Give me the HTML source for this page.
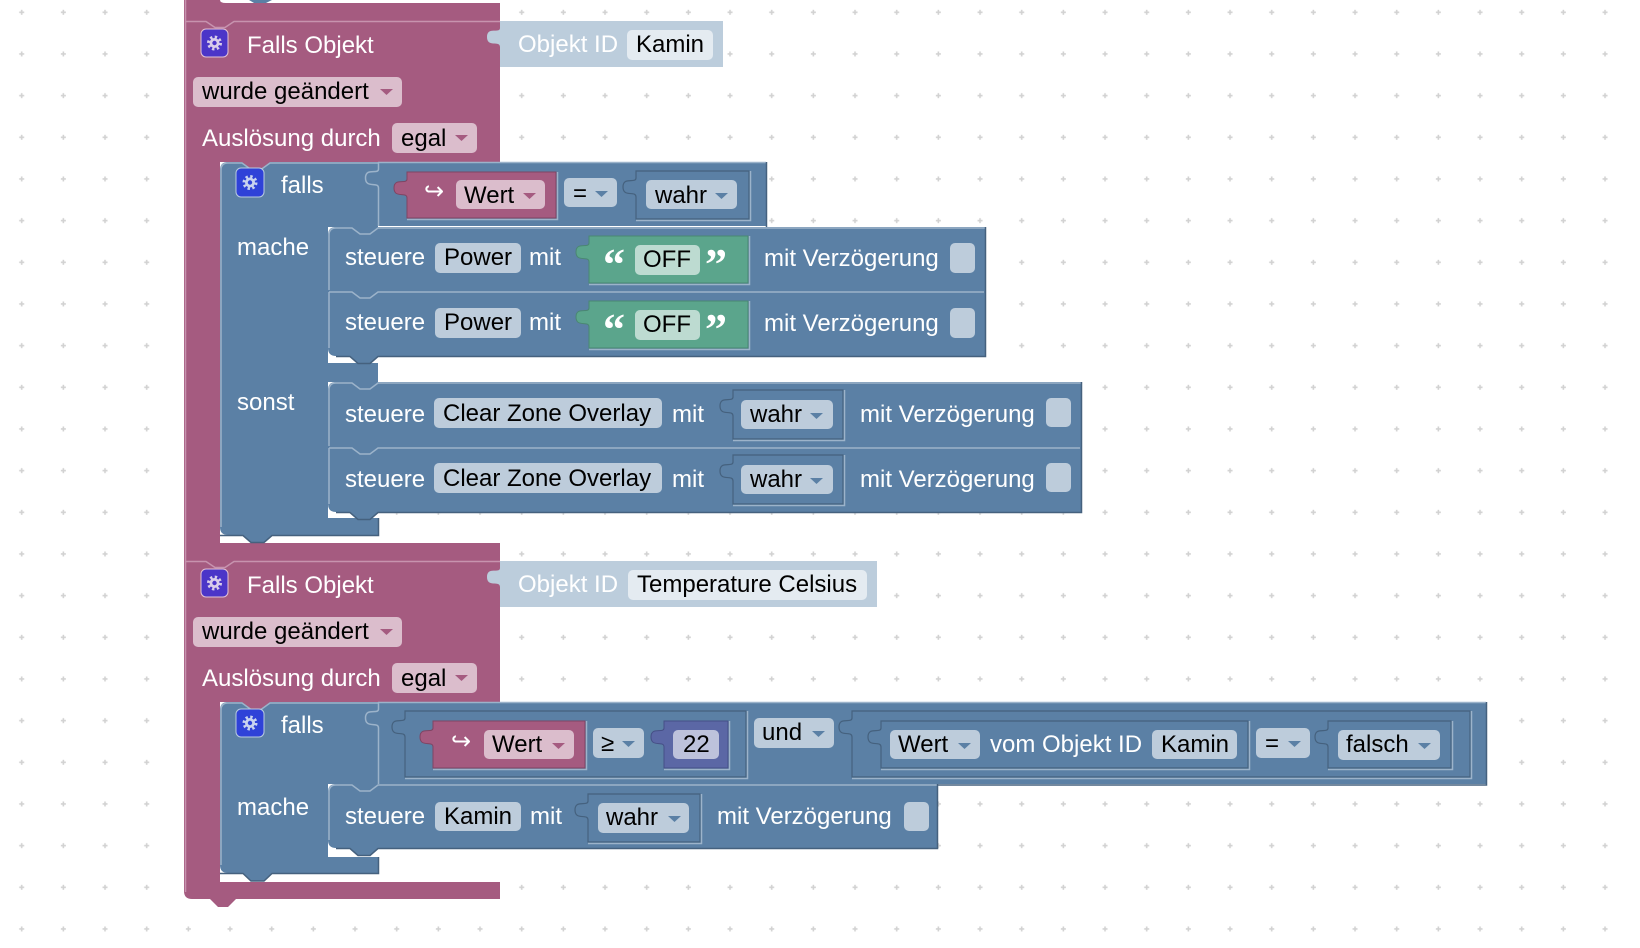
<!DOCTYPE html>
<html><head><meta charset="utf-8">
<style>
html,body{margin:0;padding:0;background:#fff;}
svg{display:block;}
text{font-family:"Liberation Sans","DejaVu Sans",sans-serif;font-size:24px;}
.w{fill:#fff;}
.k{fill:#000;}
.ar{font-family:"DejaVu Sans",sans-serif;fill:#fff;font-size:24px;}
.q{font-family:"Liberation Serif",serif;font-weight:bold;fill:#fff;font-size:44px;}
.lb{fill:none;stroke:#9cb3ca;stroke-width:1.5;}
.db{fill:none;stroke:#45617e;stroke-width:1.5;}
.lp{fill:none;stroke:#c793ae;stroke-width:1.5;}
.fb{fill:#bdccdb;}
.fp{fill:#dbbdcc;}
.tb{fill:#5b80a5;}
.tp{fill:#a55b80;}
</style></head><body>
<svg width="1640" height="948" viewBox="0 0 1640 948" xmlns="http://www.w3.org/2000/svg">
<defs>
<pattern id="grid" width="41.667" height="41.667" patternUnits="userSpaceOnUse">
 <rect x="19.2" y="11.5" width="5" height="1.6" fill="#d2d2d2"/>
 <rect x="20.9" y="9.8" width="1.6" height="5" fill="#d2d2d2"/>
</pattern>
</defs>
<rect width="1640" height="948" fill="#fff"/>
<rect width="1640" height="948" fill="url(#grid)"/>

<!-- ===== Pink trigger blocks ===== -->
<g fill="#a55b80">
<rect x="184" y="0" width="316" height="162"/>
<rect x="184" y="0" width="36" height="892"/>
<rect x="184" y="543" width="316" height="159"/>
<path d="M184,882 H500 V899 H236 L228,907 H218 L210,899 H192 Q184,899 184,891 Z"/>
</g>
<path d="M220,0 H500 V3 H226 Q220,3 220,0 Z" fill="#fff"/>
<path d="M249,0 H272 L266,3 H254 Z" fill="#5b80a5"/>
<path class="lp" d="M185,21.5 H206 L215,27.5 H225 L234,21.5 H500"/>
<path class="lp" d="M185,561.5 H206 L215,567.5 H225 L234,561.5 H500"/>
<path class="lp" d="M185.5,0 V892"/>

<!-- ===== Objekt ID blocks ===== -->
<path d="M723,21 H500 V28 c0,6 -13,-2 -13,9 s13,3 13,10 V67 H723 Z" fill="#bccddc"/>
<text x="518" y="52" class="w">Objekt ID</text>
<rect x="627" y="30" width="86" height="30" rx="5" fill="#e4ebf1"/>
<text x="636" y="52" class="k">Kamin</text>

<path d="M877,561 H500 V568 c0,6 -13,-2 -13,9 s13,3 13,10 V607 H877 Z" fill="#bccddc"/>
<text x="518" y="592" class="w">Objekt ID</text>
<rect x="628" y="570" width="239" height="30" rx="5" fill="#e4ebf1"/>
<text x="637" y="592" class="k">Temperature Celsius</text>

<!-- ===== Pink header contents block 1 ===== -->
<rect x="201" y="29" width="27" height="28" rx="5" fill="#4b35c8" stroke="#e3c3d4" stroke-width="1"/>
<g transform="translate(214.5,43)"><circle r="6" fill="none" stroke="#d9cdea" stroke-width="3" stroke-dasharray="2.36 2.36"/><circle r="5" fill="#d9cdea"/><circle r="2.2" fill="#4b35c8"/></g>
<text x="247" y="53" class="w">Falls Objekt</text>
<rect x="193" y="77" width="209" height="30" rx="5" class="fp"/>
<text x="202" y="99" class="k">wurde geändert</text>
<polygon points="380,89 393,89 386.5,95" class="tp"/>
<text x="202" y="146" class="w">Auslösung durch</text>
<rect x="392" y="123" width="85" height="30" rx="5" class="fp"/>
<text x="401" y="146" class="k">egal</text>
<polygon points="455,135 468,135 461.5,141" class="tp"/>

<!-- ===== Pink header contents block 2 ===== -->
<rect x="201" y="569" width="27" height="28" rx="5" fill="#4b35c8" stroke="#e3c3d4" stroke-width="1"/>
<g transform="translate(214.5,583)"><circle r="6" fill="none" stroke="#d9cdea" stroke-width="3" stroke-dasharray="2.36 2.36"/><circle r="5" fill="#d9cdea"/><circle r="2.2" fill="#4b35c8"/></g>
<text x="247" y="593" class="w">Falls Objekt</text>
<rect x="193" y="617" width="209" height="30" rx="5" class="fp"/>
<text x="202" y="639" class="k">wurde geändert</text>
<polygon points="380,629 393,629 386.5,635" class="tp"/>
<text x="202" y="686" class="w">Auslösung durch</text>
<rect x="392" y="663" width="85" height="30" rx="5" class="fp"/>
<text x="401" y="686" class="k">egal</text>
<polygon points="455,675 468,675 461.5,681" class="tp"/>

<!-- ===== Blue falls block 1 ===== -->
<path d="M228,162 H378 V227 H328 V363 H378 V382 H328 V518 H378 V535 H272 L264,542 H251 L243,535 H228 Q220,535 220,527 V170 Q220,162 228,162 Z" fill="#5b80a5"/>
<polygon points="242,162 251,169 261,169 270,162" fill="#a55b80"/>
<path class="lb" d="M221,527 V170 Q221,163 228,163 H242 L251,169.5 H261 L270,163 H378"/>
<path class="db" d="M220,535.5 H243 L251,542.5 H264 L272,535.5 H378.5 V518"/>
<rect x="236" y="168" width="28" height="29" rx="5" fill="#2f42d8" stroke="#b9cbe0" stroke-width="1"/>
<g transform="translate(250,182.5)"><circle r="6" fill="none" stroke="#c9d3ef" stroke-width="3" stroke-dasharray="2.36 2.36"/><circle r="5" fill="#c9d3ef"/><circle r="2.2" fill="#2f42d8"/></g>
<text x="281" y="193" class="w">falls</text>
<text x="237" y="255" class="w">mache</text>
<text x="237" y="410" class="w">sonst</text>

<!-- ===== Blue falls block 2 ===== -->
<path d="M228,702 H378 V784 H328 V857 H378 V873 H272 L264,881 H251 L243,873 H228 Q220,873 220,865 V710 Q220,702 228,702 Z" fill="#5b80a5"/>
<polygon points="242,702 251,709 261,709 270,702" fill="#a55b80"/>
<path class="lb" d="M221,865 V710 Q221,703 228,703 H242 L251,709.5 H261 L270,703 H378"/>
<path class="db" d="M220,873.5 H243 L251,881 H264 L272,873.5 H378.5 V857"/>
<rect x="236" y="709" width="28" height="28" rx="5" fill="#2f42d8" stroke="#b9cbe0" stroke-width="1"/>
<g transform="translate(250,723)"><circle r="6" fill="none" stroke="#c9d3ef" stroke-width="3" stroke-dasharray="2.36 2.36"/><circle r="5" fill="#c9d3ef"/><circle r="2.2" fill="#2f42d8"/></g>
<text x="281" y="733" class="w">falls</text>
<text x="237" y="815" class="w">mache</text>

<!-- ===== Statement blocks block 1 (mache) ===== -->
<path d="M336,227 H985 V291 H328 V235 Q328,227 336,227 Z" fill="#5b80a5"/>
<path d="M328,291 H985 V356 H378 L370,363 H358 L350,356 H336 Q328,356 328,348 Z" fill="#5b80a5"/>
<path class="lb" d="M329,290 V235 Q329,228 336,228 H352 L360,234 H370 L378,228 H985"/>
<path class="lb" d="M329,292 H352 L360,298 H370 L378,292 H984"/>
<path class="lb" d="M329,292 V348"/>
<path class="db" d="M985.5,227 V356.5 H378 L370,363.5 H358 L350,356.5 H336"/>

<text x="345" y="265" class="w">steuere</text>
<rect x="435" y="243" width="86" height="30" rx="5" class="fb"/>
<text x="444" y="265" class="k">Power</text>
<text x="529" y="265" class="w">mit</text>
<path d="M748,236 H589 V243 c0,6 -13,-2 -13,9 s13,3 13,10 V283 H748 Z" fill="#5ba58c" stroke="#4a8772" stroke-width="1"/>
<path class="lb" d="M749.5,236 V284.5 H589"/>
<text x="603" y="279" class="q">“</text>
<rect x="635" y="245" width="65" height="30" rx="5" fill="#bddbd1"/>
<text x="643" y="267" class="k">OFF</text>
<text x="705" y="279" class="q">”</text>
<text x="764" y="266" class="w">mit Verzögerung</text>
<rect x="950" y="243" width="25" height="30" rx="5" class="fb"/>

<text x="345" y="330" class="w">steuere</text>
<rect x="435" y="308" width="86" height="30" rx="5" class="fb"/>
<text x="444" y="330" class="k">Power</text>
<text x="529" y="330" class="w">mit</text>
<path d="M748,301 H589 V308 c0,6 -13,-2 -13,9 s13,3 13,10 V348 H748 Z" fill="#5ba58c" stroke="#4a8772" stroke-width="1"/>
<path class="lb" d="M749.5,301 V349.5 H589"/>
<text x="603" y="344" class="q">“</text>
<rect x="635" y="310" width="65" height="30" rx="5" fill="#bddbd1"/>
<text x="643" y="332" class="k">OFF</text>
<text x="705" y="344" class="q">”</text>
<text x="764" y="331" class="w">mit Verzögerung</text>
<rect x="950" y="308" width="25" height="30" rx="5" class="fb"/>

<!-- ===== Statement blocks block 1 (sonst) ===== -->
<path d="M336,382 H1081 V447 H328 V390 Q328,382 336,382 Z" fill="#5b80a5"/>
<path d="M328,447 H1081 V512 H378 L370,519 H358 L350,512 H336 Q328,512 328,504 Z" fill="#5b80a5"/>
<path class="lb" d="M329,446 V390 Q329,383 336,383 H352 L360,389 H370 L378,383 H1081"/>
<path class="lb" d="M329,448 H352 L360,454 H370 L378,448 H1080"/>
<path class="lb" d="M329,448 V504"/>
<path class="db" d="M1081.5,382 V512.5 H378 L370,519.5 H358 L350,512.5 H336"/>

<text x="345" y="422" class="w">steuere</text>
<rect x="434" y="398" width="228" height="30" rx="5" class="fb"/>
<text x="443" y="421" class="k">Clear Zone Overlay</text>
<text x="672" y="422" class="w">mit</text>
<path d="M843,390 H733 V397 c0,6 -13,-2 -13,9 s13,3 13,10 V439 H843 Z" fill="#5b80a5" stroke="#45617e" stroke-width="1.2"/>
<path class="lb" d="M844.5,390 V440.5 H733"/>
<rect x="741" y="400" width="92" height="29" rx="5" class="fb"/>
<text x="750" y="422" class="k">wahr</text>
<polygon points="810,413 823,413 816.5,419" class="tb"/>
<text x="860" y="422" class="w">mit Verzögerung</text>
<rect x="1046" y="398" width="25" height="29" rx="5" class="fb"/>

<text x="345" y="487" class="w">steuere</text>
<rect x="434" y="463" width="228" height="30" rx="5" class="fb"/>
<text x="443" y="486" class="k">Clear Zone Overlay</text>
<text x="672" y="487" class="w">mit</text>
<path d="M843,455 H733 V462 c0,6 -13,-2 -13,9 s13,3 13,10 V504 H843 Z" fill="#5b80a5" stroke="#45617e" stroke-width="1.2"/>
<path class="lb" d="M844.5,455 V505.5 H733"/>
<rect x="741" y="465" width="92" height="29" rx="5" class="fb"/>
<text x="750" y="487" class="k">wahr</text>
<polygon points="810,478 823,478 816.5,484" class="tb"/>
<text x="860" y="487" class="w">mit Verzögerung</text>
<rect x="1046" y="463" width="25" height="29" rx="5" class="fb"/>

<!-- ===== Condition block 1: Wert = wahr ===== -->
<path d="M766,162 H378 V169 c0,6 -13,-2 -13,9 s13,3 13,10 V226 H766 Z" fill="#5b80a5"/>
<path class="lb" d="M378,162.5 H766 M378.5,162 V169 c0,6 -13,-2 -13,9 s13,3 13,10 V226"/>
<path class="db" d="M766.5,162 V227"/>
<path d="M556,172 H407 V179 c0,6 -13,-2 -13,9 s13,3 13,10 V218 H556 Z" fill="#a55b80" stroke="#7f4463" stroke-width="1"/>
<path class="lb" d="M557.5,172 V219.5 H407"/>
<text x="424" y="199" class="ar">↪</text>
<rect x="456" y="180" width="89" height="29" rx="5" class="fp"/>
<text x="464" y="203" class="k">Wert</text>
<polygon points="523,193 536,193 529.5,199" class="tp"/>
<rect x="564" y="178" width="53" height="29" rx="5" class="fb"/>
<text x="573" y="201" class="k">=</text>
<polygon points="595,191 608,191 601.5,197" class="tb"/>
<path d="M749,171 H636 V178 c0,6 -13,-2 -13,9 s13,3 13,10 V219 H749 Z" fill="#5b80a5" stroke="#45617e" stroke-width="1.2"/>
<path class="lb" d="M750.5,171 V220.5 H636"/>
<rect x="646" y="180" width="91" height="29" rx="5" class="fb"/>
<text x="655" y="203" class="k">wahr</text>
<polygon points="715,193 728,193 721.5,199" class="tb"/>

<!-- ===== Statement block 2 (mache) ===== -->
<path d="M336,784 H937 V848 H378 L370,855 H358 L350,848 H336 Q328,848 328,840 V792 Q328,784 336,784 Z" fill="#5b80a5"/>
<path class="lb" d="M329,840 V792 Q329,785 336,785 H352 L360,791 H370 L378,785 H937"/>
<path class="db" d="M937.5,784 V848.5 H378 L370,855.5 H358 L350,848.5 H336"/>
<text x="345" y="824" class="w">steuere</text>
<rect x="435" y="802" width="86" height="29" rx="5" class="fb"/>
<text x="444" y="824" class="k">Kamin</text>
<text x="530" y="824" class="w">mit</text>
<path d="M700,794 H588 V801 c0,6 -13,-2 -13,9 s13,3 13,10 V842 H700 Z" fill="#5b80a5" stroke="#45617e" stroke-width="1.2"/>
<path class="lb" d="M701.5,794 V843.5 H588"/>
<rect x="598" y="803" width="91" height="30" rx="5" class="fb"/>
<text x="606" y="825" class="k">wahr</text>
<polygon points="668,816 681,816 674.5,822" class="tb"/>
<text x="717" y="824" class="w">mit Verzögerung</text>
<rect x="904" y="802" width="25" height="29" rx="5" class="fb"/>

<!-- ===== Condition block 2: und ===== -->
<path d="M1486,702 H378 V709 c0,6 -13,-2 -13,9 s13,3 13,10 V784 H1486 Z" fill="#5b80a5"/>
<path class="lb" d="M378,702.5 H1486 M378.5,702 V709 c0,6 -13,-2 -13,9 s13,3 13,10 V784"/>
<path class="db" d="M1486.5,702 V785 H937"/>

<path d="M746,711 H405 V718 c0,6 -13,-2 -13,9 s13,3 13,10 V777 H746 Z" fill="#5b80a5" stroke="#45617e" stroke-width="1.2"/>
<path class="lb" d="M747.5,711 V778.5 H405"/>
<path d="M585,721 H433 V728 c0,6 -13,-2 -13,9 s13,3 13,10 V768 H585 Z" fill="#a55b80" stroke="#7f4463" stroke-width="1"/>
<path class="lb" d="M586.5,721 V769.5 H433"/>
<text x="451" y="749" class="ar">↪</text>
<rect x="484" y="730" width="90" height="29" rx="5" class="fp"/>
<text x="492" y="752" class="k">Wert</text>
<polygon points="552,743 565,743 558.5,749" class="tp"/>
<rect x="593" y="728" width="51" height="30" rx="5" class="fb"/>
<text x="601" y="751" class="k">≥</text>
<polygon points="622,741 635,741 628.5,747" class="tb"/>
<path d="M728,721 H664 V728 c0,6 -13,-2 -13,9 s13,3 13,10 V768 H728 Z" fill="#5b67a5" stroke="#464f86" stroke-width="1"/>
<path class="lb" d="M729.5,721 V769.5 H664"/>
<rect x="673" y="730" width="46" height="29" rx="5" fill="#bdc2db"/>
<text x="683" y="752" class="k">22</text>

<rect x="754" y="718" width="80" height="30" rx="5" class="fb"/>
<text x="762" y="740" class="k">und</text>
<polygon points="812,731 825,731 818.5,737" class="tb"/>

<path d="M1470,711 H852 V718 c0,6 -13,-2 -13,9 s13,3 13,10 V777 H1470 Z" fill="#5b80a5" stroke="#45617e" stroke-width="1.2"/>
<path class="lb" d="M1471.5,711 V778.5 H852"/>
<path d="M1248,721 H881 V728 c0,6 -13,-2 -13,9 s13,3 13,10 V768 H1248 Z" fill="#5b80a5" stroke="#45617e" stroke-width="1.2"/>
<path class="lb" d="M1249.5,721 V769.5 H881"/>
<rect x="890" y="730" width="90" height="29" rx="5" class="fb"/>
<text x="898" y="752" class="k">Wert</text>
<polygon points="958,743 971,743 964.5,749" class="tb"/>
<text x="990" y="752" class="w">vom Objekt ID</text>
<rect x="1152" y="730" width="85" height="29" rx="5" class="fb"/>
<text x="1161" y="752" class="k">Kamin</text>
<rect x="1256" y="728" width="54" height="30" rx="5" class="fb"/>
<text x="1265" y="751" class="k">=</text>
<polygon points="1288,741 1301,741 1294.5,747" class="tb"/>
<path d="M1451,721 H1328 V728 c0,6 -13,-2 -13,9 s13,3 13,10 V768 H1451 Z" fill="#5b80a5" stroke="#45617e" stroke-width="1.2"/>
<path class="lb" d="M1452.5,721 V769.5 H1328"/>
<rect x="1338" y="730" width="102" height="30" rx="5" class="fb"/>
<text x="1346" y="752" class="k">falsch</text>
<polygon points="1418,743 1431,743 1424.5,749" class="tb"/>
</svg>
</body></html>
